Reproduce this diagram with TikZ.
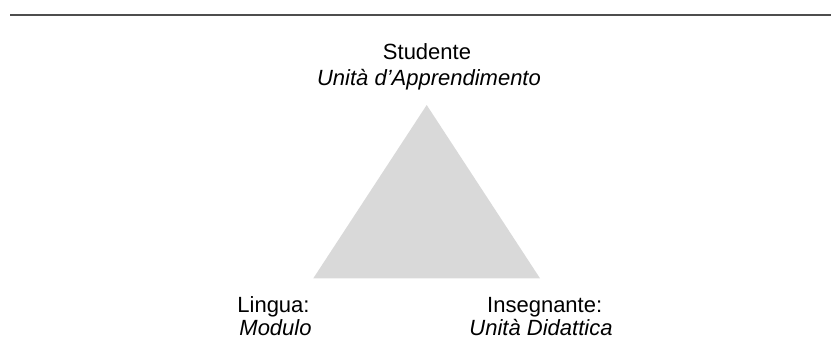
\documentclass[tikz,border=0pt]{standalone}
\usepackage{fontspec}
\setmainfont{Liberation Sans}
\definecolor{tri}{HTML}{D9D9D9}
\definecolor{rule}{HTML}{4D4D4D}
\begin{document}
\begin{tikzpicture}[x=1pt,y=-1pt,
  lbl/.style={anchor=base,inner sep=0pt,font=\fontsize{22}{26}\selectfont},
  lbli/.style={lbl,font=\fontsize{22}{26}\selectfont\itshape}]
\useasboundingbox (0,0) rectangle (831,362);
\coordinate (r1) at (10,15);
\coordinate (r2) at (831,15);
\draw[rule,line width=2pt] (r1) -- (r2);
\coordinate (apex) at (426.7,105);
\coordinate (bl) at (313.3,278.3);
\coordinate (br) at (540,278.3);
\fill[tri] (apex) -- (bl) -- (br) -- cycle;
\node[lbl] (stud) at (427,59.3) {Studente};
\node[lbli] (ua) at (429,85) {Unità d’Apprendimento};
\node[lbl] (ling) at (273.5,312.3) {Lingua:};
\node[lbli] (mod) at (275.5,335) {Modulo};
\node[lbl] (ins) at (544.7,312.3) {Insegnante:};
\node[lbli] (ud) at (541,335) {Unità Didattica};
\end{tikzpicture}
\end{document}
